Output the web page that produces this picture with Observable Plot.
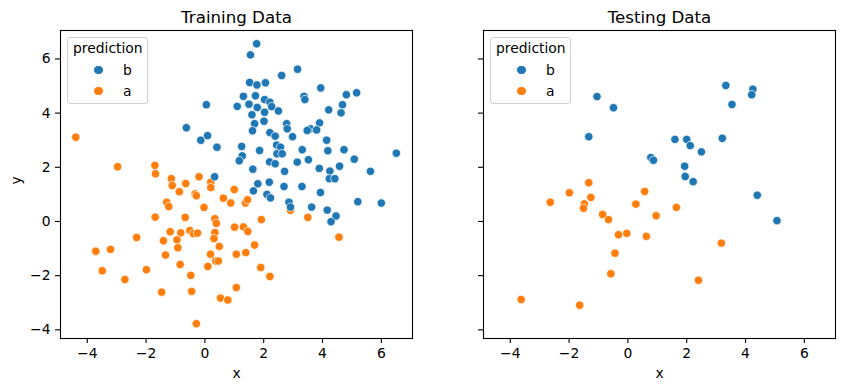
<!DOCTYPE html>
<html><head><meta charset="utf-8">
<script src="https://cdn.jsdelivr.net/npm/d3@7"></script>
<script src="https://cdn.jsdelivr.net/npm/@observablehq/plot@0.6"></script>
<style>
body{margin:0;background:#fff;font-family:"DejaVu Sans",sans-serif;}
#wrap{position:relative;width:844px;height:391px;overflow:hidden;background:#fff;}
.panel{position:absolute;top:0;}
.legend{position:absolute;top:37px;width:81px;height:67px;box-sizing:border-box;border:1px solid #d0d0d0;border-radius:3px;background:rgba(255,255,255,0.8);font-size:13.89px;color:#000;}
.legend .lt{position:absolute;left:5px;top:2px;line-height:17px;white-space:nowrap;}
.legend .mk{position:absolute;width:8.4px;height:8.4px;border-radius:50%;box-sizing:content-box;border:0.7px solid #fff;}
.legend .lb{position:absolute;line-height:17px;}
</style>
</head><body>
<div id="wrap"></div>
<script>
const categories = ["b", "a"];
const colors = ["#1f77b4", "#ff7f0e"];
const panelTitles = ["Training Data", "Testing Data"];
const legendTitle = "prediction";
const xLabel = "x";
const yLabel = "y";
const xTicks = [-4, -2, 0, 2, 4, 6];
const yTicks = [-4, -2, 0, 2, 4, 6];
const xDomain = [-4.91, 7.06];
const yDomain = [-4.32, 7.05];

// Training data, prediction "b"
const trainBX = [1.76,1.55,3.15,2.61,1.52,1.77,2.06,3.94,5.16,4.81,
  1.31,1.72,3.37,3.40,2.03,2.21,1.10,1.50,1.78,2.27,
  4.68,4.21,4.63,2.03,2.50,1.60,1.69,2.01,2.78,2.80,
  3.90,3.59,3.48,3.80,1.62,2.21,2.39,2.98,4.14,2.44,
  2.57,1.25,1.86,3.31,4.18,4.73,2.45,2.63,6.51,1.27,
  1.17,2.20,2.39,3.14,3.52,5.08,1.63,2.71,3.89,4.25,
  4.58,5.63,4.23,4.42,1.80,2.19,2.69,3.30,1.65,2.11,
  2.23,3.93,2.86,2.91,5.20,6.00,3.63,4.16,4.46,4.29,
  0.05,-0.63,0.09,-0.14,0.41,0.33];
const trainBY = [6.56,6.15,5.62,5.39,5.13,5.04,5.12,4.93,4.75,4.68,
  4.62,4.64,4.62,4.50,4.50,4.40,4.25,4.33,4.21,4.24,
  4.31,4.12,4.01,4.03,4.08,3.94,3.61,3.70,3.61,3.42,
  3.64,3.42,3.36,3.38,3.35,3.28,3.15,3.13,3.00,2.82,
  2.74,2.77,2.62,2.65,2.61,2.65,2.50,2.50,2.52,2.42,
  2.24,2.20,2.13,2.19,2.28,2.30,1.93,1.85,1.96,1.86,
  2.04,1.85,1.58,1.58,1.39,1.45,1.29,1.29,1.13,1.00,
  0.87,1.07,0.71,0.53,0.73,0.68,0.53,0.42,0.20,-0.01,
  4.31,3.46,3.17,3.00,2.74,1.65];
// Training data, prediction "a"
const trainAX = [-4.39,-2.97,-1.70,-1.68,-1.14,-0.65,-0.20,0.20,-1.11,0.20,
  1.00,-0.87,-0.33,-0.29,0.63,0.88,-1.30,-1.23,-0.03,-1.69,
  -0.67,0.34,0.39,1.01,-1.18,-0.82,-0.51,-0.39,-0.25,0.34,
  -2.32,-1.41,-0.95,0.31,0.49,-0.92,-3.71,-3.21,0.19,-1.34,
  1.07,0.37,0.46,-0.84,0.10,-3.49,-1.99,-2.72,-0.48,1.07,
  -1.47,-0.45,0.53,0.78,-0.29,1.38,1.45,2.91,3.50,1.92,
  1.31,1.46,1.69,1.39,4.56,1.90,2.21];
const trainAY = [3.11,2.02,2.07,1.76,1.58,1.40,1.65,1.45,1.33,1.25,
  1.18,1.10,1.02,0.95,0.86,0.68,0.71,0.55,0.52,0.16,
  0.15,0.10,-0.07,-0.21,-0.38,-0.42,-0.33,-0.45,-0.43,-0.41,
  -0.59,-0.71,-0.68,-0.63,-0.92,-0.97,-1.10,-1.03,-1.21,-1.24,
  -1.21,-1.46,-1.46,-1.59,-1.66,-1.82,-1.78,-2.14,-1.99,-2.44,
  -2.61,-2.58,-2.83,-2.90,-3.77,0.68,0.80,0.41,0.15,0.07,
  -0.20,-0.37,-0.87,-1.15,-0.58,-1.70,-2.03];
// Testing data
const testBX = [-1.05,-0.49,-1.33,0.78,0.87,1.60,2.00,2.12,2.50,3.21,1.93,1.95,2.22,3.33,4.25,4.21,3.54,4.40,5.07];
const testBY = [4.61,4.20,3.13,2.36,2.26,3.03,3.03,2.80,2.57,3.07,2.04,1.66,1.47,5.02,4.88,4.68,4.32,0.97,0.03];
const testAX = [-1.33,-1.99,-2.64,-1.26,-1.48,-1.51,0.57,0.27,0.96,-0.86,-0.66,-0.32,-0.04,0.63,-0.44,-0.58,-3.63,-1.64,1.65,3.18,2.40];
const testAY = [1.43,1.06,0.71,0.89,0.65,0.49,1.11,0.64,0.21,0.26,0.07,-0.49,-0.44,-0.55,-1.17,-1.93,-2.88,-3.09,0.52,-0.80,-2.17];

function rows(xs, ys, label) { return xs.map((x, i) => ({x, y: ys[i], prediction: label})); }
const trainData = [...rows(trainAX, trainAY, "a"), ...rows(trainBX, trainBY, "b")];
const testData = [...rows(testAX, testAY, "a"), ...rows(testBX, testBY, "b")];

const fmt = d3.format("d");

function panel(data, title, width, marginLeft, marginRight, showY) {
  const marks = [
    Plot.dot(data, {x: "x", y: "y", fill: "prediction", r: 4.2, stroke: "white", strokeWidth: 0.7}),
    Plot.frame({stroke: "black", strokeWidth: 1.1}),
    Plot.axisX({ticks: xTicks, tickSize: 5, tickPadding: 5, tickFormat: fmt, label: null, strokeWidth: 1.1}),
    Plot.axisY({ticks: yTicks, tickSize: 5, tickPadding: 5, tickFormat: showY ? fmt : () => "", label: null, strokeWidth: 1.1}),
    Plot.text([title], {text: d => d, frameAnchor: "top", lineAnchor: "middle", dy: -13, fontSize: 16.67, fill: "black"}),
    Plot.text([xLabel], {text: d => d, frameAnchor: "bottom", lineAnchor: "middle", dy: 35, fontSize: 13.89, fill: "black"})
  ];
  if (showY) marks.push(Plot.text([yLabel], {text: d => d, frameAnchor: "left", lineAnchor: "middle", dx: -44, rotate: -90, fontSize: 13.89, fill: "black"}));
  return Plot.plot({
    width, height: 391, marginLeft, marginRight, marginTop: 30, marginBottom: 53,
    style: {fontFamily: "DejaVu Sans", fontSize: "13.89px", background: "white", color: "black", overflow: "visible"},
    x: {domain: xDomain},
    y: {domain: yDomain},
    color: {domain: categories, range: colors},
    marks
  });
}

const wrap = document.getElementById("wrap");
const panels = [
  {data: trainData, left: 0, width: 430, ml: 60, mr: 18, showY: true, legendLeft: 67},
  {data: testData, left: 430, width: 414, ml: 53, mr: 9, showY: false, legendLeft: 490}
];
panels.forEach((p, i) => {
  const svg = panel(p.data, panelTitles[i], p.width, p.ml, p.mr, p.showY);
  svg.classList.add("panel");
  svg.style.left = p.left + "px";
  wrap.appendChild(svg);
  const lg = document.createElement("div");
  lg.className = "legend";
  lg.style.left = p.legendLeft + "px";
  const t = document.createElement("div");
  t.className = "lt"; t.textContent = legendTitle;
  lg.appendChild(t);
  categories.forEach((c, j) => {
    const cy = 32 + j * 21;
    const m = document.createElement("div");
    m.className = "mk";
    m.style.background = colors[j];
    m.style.left = (30.3 - 4.9) + "px";
    m.style.top = (cy - 4.9) + "px";
    lg.appendChild(m);
    const l = document.createElement("div");
    l.className = "lb"; l.textContent = c;
    l.style.left = "55px";
    l.style.top = (cy - 8.5) + "px";
    lg.appendChild(l);
  });
  wrap.appendChild(lg);
});
</script>
</body></html>
